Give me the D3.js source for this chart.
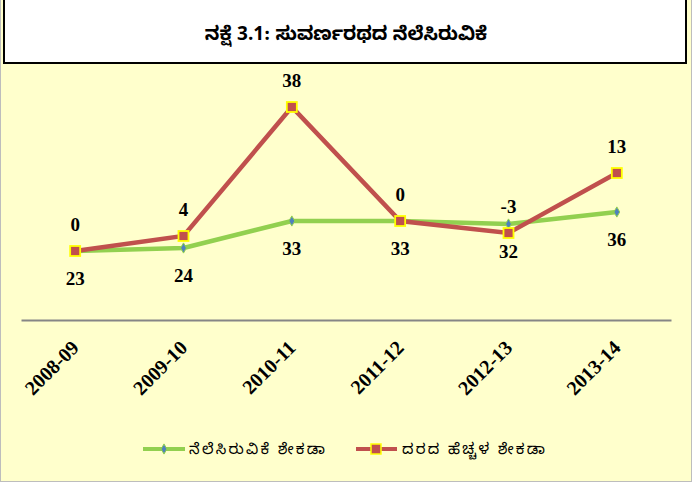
<!DOCTYPE html>
<html><head><meta charset="utf-8">
<script src="https://cdn.jsdelivr.net/npm/d3@7"></script>
<style>body{margin:0;padding:0;background:#fff}svg{display:block}</style>
</head><body>
<script>
const categories = ["2008-09","2009-10","2010-11","2011-12","2012-13","2013-14"];
const occupancy = [23,24,33,33,32,36];          // ನೆಲೆಸಿರುವಿಕೆ ಶೇಕಡಾ
const rateIncrease = [0,4,38,0,-3,13];          // ದರದ ಹೆಚ್ಚಳ ಶೇಕಡಾ (stacked on occupancy)
const seriesNames = ["ನೆಲೆಸಿರುವಿಕೆ ಶೇಕಡಾ","ದರದ ಹೆಚ್ಚಳ ಶೇಕಡಾ"];
const title = "ನಕ್ಷೆ 3.1: ಸುವರ್ಣರಥದ ನೆಲೆಸಿರುವಿಕೆ";

const W = 692, H = 482;
const knFont = "'Noto Sans Kannada','Tunga','Noto Sans','Noto Sans CJK SC',sans-serif";
const serif = "'Liberation Serif','Times New Roman',serif";
const svg = d3.select("body").append("svg").attr("width", W).attr("height", H);

svg.append("rect").attr("x",0).attr("y",0).attr("width",W).attr("height",H).attr("fill","#FFFFCC");
svg.append("rect").attr("x",0.5).attr("y",-2).attr("width",W-1).attr("height",H+1.5)
  .attr("fill","none").attr("stroke","#BDBDBD").attr("stroke-width",1);

// title box
svg.append("rect").attr("x",4).attr("y",-2).attr("width",682).attr("height",65)
  .attr("fill","#fff").attr("stroke","#000").attr("stroke-width",2);
svg.append("text").attr("x",346).attr("y",40).attr("text-anchor","middle")
  .attr("font-family", knFont).attr("font-weight","bold").attr("font-size",19)
  .text(title);

const x = d3.scaleBand().domain(categories).range([21,671]);
const y = d3.scaleLinear().domain([0,80]).range([320,80]);
const cx = d => x(d) + x.bandwidth()/2;

const stacked = occupancy.map((v,i) => v + rateIncrease[i]);

// category axis
const axis = d3.axisBottom(x).tickSize(0).tickPadding(0);
const gAx = svg.append("g").attr("transform","translate(0,320)").call(axis);
gAx.select(".domain").attr("stroke","#868686").attr("stroke-width",2);
gAx.selectAll(".tick text")
  .attr("font-family", serif).attr("font-weight","bold").attr("font-size",20).attr("fill","#000")
  .attr("text-anchor","end").attr("dy",0)
  .attr("transform","translate(5,29) rotate(-45)");

const line = d3.line().x(d => cx(d.c)).y(d => y(d.v));
const gData = categories.map((c,i) => ({c, v: occupancy[i]}));
const rData = categories.map((c,i) => ({c, v: stacked[i]}));

svg.append("path").datum(gData).attr("d", line).attr("fill","none")
  .attr("stroke","#92D050").attr("stroke-width",4.5).attr("stroke-linejoin","round");
svg.selectAll(".gm").data(gData).enter().append("path")
  .attr("transform", d => `translate(${cx(d.c)},${y(d.v)})`)
  .attr("d", d3.symbol(d3.symbolDiamond, 30)())
  .attr("fill","#4F81BD").attr("stroke","#92D050").attr("stroke-width",1);

svg.append("path").datum(rData).attr("d", line).attr("fill","none")
  .attr("stroke","#C0504D").attr("stroke-width",4.5).attr("stroke-linejoin","miter");
svg.selectAll(".rm").data(rData).enter().append("rect")
  .attr("x", d => cx(d.c)-5).attr("y", d => y(d.v)-5).attr("width",10).attr("height",10)
  .attr("fill","#C0504D").attr("stroke","#FFFF00").attr("stroke-width",1.8);

// labels
svg.selectAll(".gl").data(gData).enter().append("text")
  .attr("x", d => cx(d.c)).attr("y", d => y(d.v)+34).attr("text-anchor","middle")
  .attr("font-family", serif).attr("font-weight","bold").attr("font-size",19)
  .text(d => d.v);
svg.selectAll(".rl").data(rData).enter().append("text")
  .attr("x", d => cx(d.c)).attr("y", d => y(d.v)-20).attr("text-anchor","middle")
  .attr("font-family", serif).attr("font-weight","bold").attr("font-size",19)
  .text((d,i) => rateIncrease[i]);

// legend
const leg = svg.append("g").attr("transform","translate(0,449)");
leg.append("line").attr("x1",143).attr("x2",185).attr("stroke","#92D050").attr("stroke-width",4);
leg.append("path").attr("transform","translate(164,0)").attr("d", d3.symbol(d3.symbolDiamond, 30)())
  .attr("fill","#4F81BD").attr("stroke","#92D050");
leg.append("text").attr("x",189).attr("y",5).attr("font-family",knFont).attr("font-size",15)
  .attr("textLength",136).attr("lengthAdjust","spacing").text(seriesNames[0]);
leg.append("line").attr("x1",356).attr("x2",397).attr("stroke","#C0504D").attr("stroke-width",4);
leg.append("rect").attr("x",371).attr("y",-5).attr("width",10).attr("height",10)
  .attr("fill","#C0504D").attr("stroke","#FFFF00").attr("stroke-width",1.5);
leg.append("text").attr("x",402).attr("y",5).attr("font-family",knFont).attr("font-size",15)
  .attr("textLength",143).attr("lengthAdjust","spacing").text(seriesNames[1]);
</script>
</body></html>
